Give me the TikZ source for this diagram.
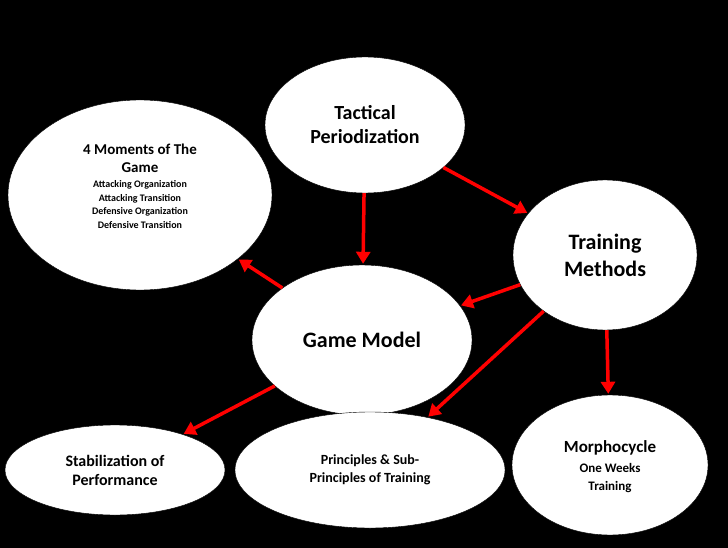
\documentclass[tikz,border=0pt]{standalone}
\usepackage{fontspec}
\setmainfont{Carlito}
\usetikzlibrary{shapes.geometric,arrows.meta}
\begin{document}
\begin{tikzpicture}[x=1pt,y=-1pt,
  el/.style={ellipse,draw=black,fill=white,align=center,font=\bfseries,inner sep=0pt},
  arr/.style={draw=red,line width=3.5pt,-{Triangle[length=12pt,width=14pt]},shorten >=1pt}]
\fill[black] (0,0) rectangle (728,548);
\useasboundingbox (0,0) rectangle (728,548);
\node[el,minimum width=200pt,minimum height=136pt,font=\bfseries\fontsize{20}{24}\selectfont] (tp) at (365,125) {Tactical\\Periodization};
\node[el,minimum width=264pt,minimum height=190pt] (fm) at (140,195) {};
\node[align=center,font=\bfseries\fontsize{15}{18}\selectfont] (fmt) at (140,158) {4 Moments of The\\Game};
\node[align=center,anchor=north,font=\bfseries\fontsize{10}{13.5}\selectfont] (fms) at (140,177) {Attacking Organization\\Attacking Transition\\Defensive Organization\\Defensive Transition};
\node[el,minimum width=184pt,minimum height=150pt,font=\bfseries\fontsize{22}{27}\selectfont] (tm) at (605,255) {Training\\Methods};
\node[el,minimum width=220pt,minimum height=150pt,font=\bfseries\fontsize{22}{27}\selectfont] (gm) at (362,340) {Game Model};
\node[el,minimum width=220pt,minimum height=90pt,font=\bfseries\fontsize{16}{19}\selectfont] (st) at (115,470) {Stabilization of\\Performance};
\node[el,minimum width=270pt,minimum height=116pt,font=\bfseries\fontsize{14}{18}\selectfont] (pr) at (370,470) {Principles \& Sub-\\Principles of Training};
\node[el,minimum width=196pt,minimum height=140pt] (mc) at (610,465) {};
\node[align=center,font=\bfseries\fontsize{17}{20}\selectfont] (mct) at (610,448) {Morphocycle};
\node[align=center,anchor=north,font=\bfseries\fontsize{13}{18}\selectfont] (mcs) at (610,460) {One Weeks\\Training};
\draw[arr] (tp) -- (tm);
\draw[arr] (tp) -- (gm);
\draw[arr] (tm) -- (gm);
\draw[arr] (gm) -- (fm);
\draw[arr] (tm) -- (pr);
\draw[arr] (tm) -- (mc);
\draw[arr] (gm) -- (st);
\end{tikzpicture}
\end{document}
